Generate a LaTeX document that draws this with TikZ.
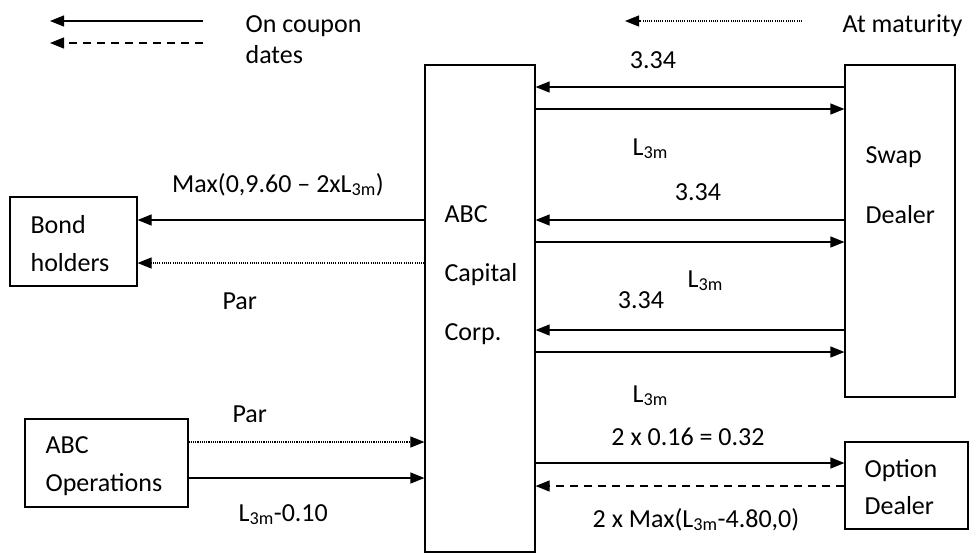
\documentclass[tikz,border=0pt]{standalone}
\usepackage{fontspec}
\setmainfont{Carlito}
\usetikzlibrary{arrows.meta,positioning}
\newcommand{\Lthree}{L\textsubscript{3m}}

\begin{document}
\begin{tikzpicture}[x=1pt, y=-1pt, line width=1.2pt,
  every node/.style={font=\fontsize{26}{31}\selectfont, inner sep=0pt},
  party/.style={draw, line width=1.2pt},
  flow/.style={-{Triangle[length=14pt,width=11pt]}},
  coupondash/.style={flow, dash pattern=on 8pt off 6pt},
  maturity/.style={flow, line width=1.1pt, dash pattern=on 1.1pt off 1.1pt}]
  \useasboundingbox (0,0) rectangle (969,555);
  % Legend
  \coordinate (legS1) at (203,21);  \coordinate (legE1) at (50,21);
  \coordinate (legS2) at (203,43);  \coordinate (legE2) at (50,43);
  \coordinate (legS3) at (802,21);  \coordinate (legE3) at (625,21);
  \draw[flow] (legS1) -- (legE1);
  \draw[coupondash] (legS2) -- (legE2);
  \draw[maturity] (legS3) -- (legE3);
  \node[anchor=base west] (coupon1) at (245,32) {On coupon};
  \node[anchor=base west] (coupon2) at (245,63) {dates};
  \node[anchor=base west] (matur) at (842,32) {At maturity};
  % Parties
  \node[party, minimum width=110pt, minimum height=487pt] (abc) at (480,308.5) {};
  \node[party, minimum width=110pt, minimum height=332pt] (swap) at (900,231) {};
  \node[party, minimum width=123pt, minimum height=87pt] (opt) at (906.5,485.5) {};
  \node[party, minimum width=127pt, minimum height=89pt] (bond) at (73.5,241.5) {};
  \node[party, minimum width=163pt, minimum height=88pt] (ops) at (106.5,463) {};
  % Party names
  \node[anchor=base west] (abcT1) at (444,222) {ABC};
  \node[anchor=base west] (abcT2) at (444,281) {Capital};
  \node[anchor=base west] (abcT3) at (444,340) {Corp.};
  \node[anchor=base west] (swapT1) at (865,163) {Swap};
  \node[anchor=base west] (swapT2) at (865,223) {Dealer};
  \node[anchor=base west] (optT1) at (864,477) {Option};
  \node[anchor=base west] (optT2) at (864,514) {Dealer};
  \node[anchor=base west] (bondT1) at (30,233) {Bond};
  \node[anchor=base west] (bondT2) at (30,271) {holders};
  \node[anchor=base west] (opsT1) at (45,453) {ABC};
  \node[anchor=base west] (opsT2) at (45,491) {Operations};
  % Swap legs
  \draw[flow] (swap.west |- 0,87) -- (abc.east |- 0,87);
  \draw[flow] (abc.east |- 0,109) -- (swap.west |- 0,109);
  \draw[flow] (swap.west |- 0,220) -- (abc.east |- 0,220);
  \draw[flow] (abc.east |- 0,242) -- (swap.west |- 0,242);
  \draw[flow] (swap.west |- 0,330) -- (abc.east |- 0,330);
  \draw[flow] (abc.east |- 0,352) -- (swap.west |- 0,352);
  % Option legs
  \draw[flow] (abc.east |- 0,463) -- (opt.west |- 0,463);
  \draw[coupondash] (opt.west |- 0,486) -- (abc.east |- 0,486);
  % Bond holders and operations
  \draw[flow] (abc.west |- 0,220) -- (bond.east |- 0,220);
  \draw[maturity] (abc.west |- 0,263) -- (bond.east |- 0,263);
  \draw[maturity] (ops.east |- 0,442) -- (abc.west |- 0,442);
  \draw[flow] (ops.east |- 0,478) -- (abc.west |- 0,478);
  % Labels
  \node[anchor=base] (fix1) at (653,68) {3.34};
  \node[anchor=base west] (flt1) at (632,155) {\Lthree};
  \node[anchor=base] (fix2) at (698,200) {3.34};
  \node[anchor=base west] (flt2) at (687,287) {\Lthree};
  \node[anchor=base] (fix3) at (641,308) {3.34};
  \node[anchor=base west] (flt3) at (632,402) {\Lthree};
  \node[anchor=base] (prem) at (688,445) {2 x 0.16 = 0.32};
  \node[anchor=base] (payoff) at (696,527) {2 x Max(\Lthree-4.80,0)};
  \node[anchor=base] (cpn) at (278,192) {Max(0,9.60 -- 2x\Lthree)};
  \node[anchor=base west] (parBond) at (222,309) {Par};
  \node[anchor=base west] (parOps) at (232,422) {Par};
  \node[anchor=base west] (fund) at (238,521) {\Lthree-0.10};
\end{tikzpicture}
\end{document}
